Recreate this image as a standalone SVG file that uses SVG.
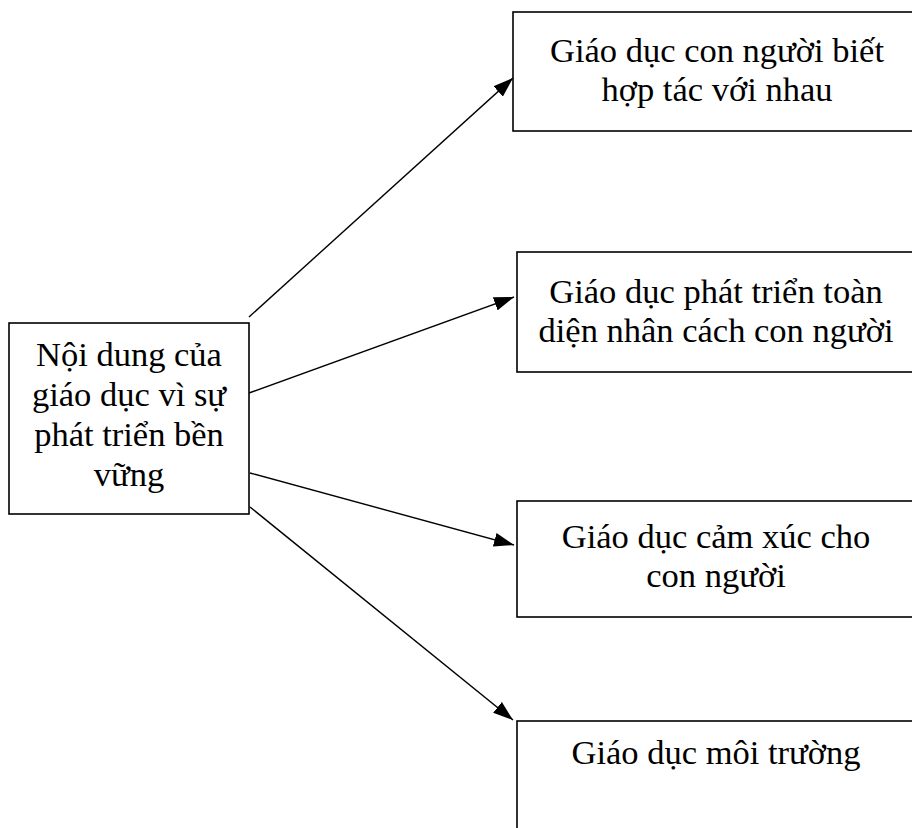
<svg xmlns="http://www.w3.org/2000/svg" width="912" height="828" viewBox="0 0 912 828">
  <style>
    .box { fill: #ffffff; stroke: #000000; stroke-width: 1.6; }
    .label { font-family: "Liberation Serif", "Times New Roman", serif; font-size: 34.5px; fill: #000000; text-anchor: middle; }
    .link { stroke: #000000; stroke-width: 1.4; fill: none; marker-end: url(#head); }
  </style>
  <defs>
    <marker id="head" viewBox="0 0 20 14" refX="20" refY="7" markerWidth="20" markerHeight="14" markerUnits="userSpaceOnUse" orient="auto">
      <path d="M0,0 L20,7 L0,14 Z" fill="#000000"/>
    </marker>
  </defs>

  <g id="connectors">
    <line class="link" x1="249" y1="317" x2="513" y2="78"/>
    <line class="link" x1="249" y1="393" x2="514" y2="297"/>
    <line class="link" x1="250" y1="473" x2="514" y2="545"/>
    <line class="link" x1="250" y1="507" x2="513" y2="720"/>
  </g>

  <g id="root">
    <rect class="box" x="9" y="323" width="240" height="191"/>
    <text class="label" x="129" y="366">Nội dung của</text>
    <text class="label" x="129" y="406">giáo dục vì sự</text>
    <text class="label" x="129" y="446">phát triển bền</text>
    <text class="label" x="129" y="486">vững</text>
  </g>

  <g id="cooperation">
    <rect class="box" x="513" y="12" width="410" height="119"/>
    <text class="label" x="717" y="62">Giáo dục con người biết</text>
    <text class="label" x="717" y="101">hợp tác với nhau</text>
  </g>

  <g id="personality">
    <rect class="box" x="517" y="252" width="406" height="120"/>
    <text class="label" x="716" y="303">Giáo dục phát triển toàn</text>
    <text class="label" x="716" y="342">diện nhân cách con người</text>
  </g>

  <g id="emotion">
    <rect class="box" x="517" y="501" width="406" height="116"/>
    <text class="label" x="716" y="548">Giáo dục cảm xúc cho</text>
    <text class="label" x="716" y="587">con người</text>
  </g>

  <g id="environment">
    <rect class="box" x="517" y="721" width="406" height="130"/>
    <text class="label" x="716" y="764">Giáo dục môi trường</text>
  </g>
</svg>
